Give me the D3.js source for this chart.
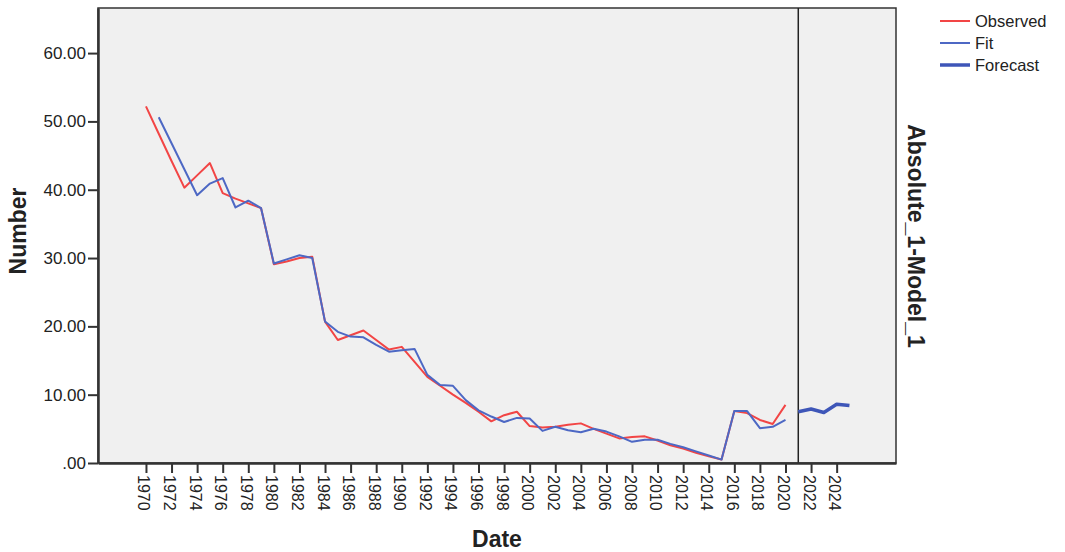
<!DOCTYPE html>
<html>
<head>
<meta charset="utf-8">
<script src="https://cdn.jsdelivr.net/npm/d3@7"></script>
<style>
  body { margin: 0; background: #fff; }
  text { font-family: "Liberation Sans", Arial, sans-serif; fill: #222; }
</style>
</head>
<body>
<div id="chart"></div>
<script>
// observed series 1970-2020
const obsYears = d3.range(1970, 2021);
const observed = [52.2, 48.2, 44.2, 40.3, 42.1, 43.9, 39.5, 38.7, 38.0, 37.3,
                  29.1, 29.5, 30.0, 30.2, 20.7, 18.0, 18.7, 19.4, 18.0, 16.6,
                  17.0, 14.8, 12.6, 11.3, 10.0, 8.8, 7.5, 6.1, 7.0, 7.5,
                  5.4, 5.2, 5.3, 5.6, 5.8, 5.0, 4.3, 3.6, 3.8, 3.9,
                  3.3, 2.6, 2.1, 1.5, 1.0, 0.5, 7.6, 7.3, 6.3, 5.7, 8.5];
// model fit 1971-2020
const fitYears = d3.range(1971, 2021);
const fit = [50.6, 46.8, 43.0, 39.2, 40.9, 41.7, 37.4, 38.4, 37.3,
             29.2, 29.8, 30.4, 30.0, 20.7, 19.2, 18.5, 18.4, 17.3, 16.3,
             16.5, 16.7, 12.9, 11.4, 11.3, 9.2, 7.7, 6.8, 6.0, 6.6,
             6.5, 4.7, 5.3, 4.8, 4.5, 5.0, 4.6, 3.9, 3.1, 3.4,
             3.4, 2.8, 2.3, 1.7, 1.1, 0.5, 7.6, 7.6, 5.1, 5.3, 6.3];
// forecast 2021-2025
const fcYears = d3.range(2021, 2026);
const forecast = [7.5, 7.9, 7.4, 8.6, 8.4];

const xTicks = d3.range(1970, 2025, 2);
const yTicks = [0, 10, 20, 30, 40, 50, 60];
const legendLabels = ["Observed", "Fit", "Forecast"];

const w = 1065, h = 552;
const pLeft = 98, pRight = 896, pTop = 8, pBottom = 463;
const colObs = "#f24545", colFit = "#4d68c4", colFc = "#3e56b8";

var svg = d3.select("#chart").append("svg").attr("width", w).attr("height", h);

var x = d3.scaleLinear().domain([1966.25, 2028.64]).range([pLeft, pRight]);
var y = d3.scaleLinear().domain([0, 66.6]).range([pBottom, pTop]);

// plot background + frame
svg.append("rect").attr("x", pLeft).attr("y", pTop)
   .attr("width", pRight - pLeft).attr("height", pBottom - pTop)
   .attr("fill", "#f0f0f0").attr("stroke", "#333").attr("stroke-width", 1.5);

// forecast start line
svg.append("line").attr("x1", x(2021)).attr("x2", x(2021))
   .attr("y1", pTop).attr("y2", pBottom).attr("stroke", "#222").attr("stroke-width", 1.5);

var line = d3.line().x(d => x(d[0])).y(d => y(d[1]));

function series(years, vals, col, sw) {
  svg.append("path").datum(d3.zip(years, vals))
     .attr("d", line).attr("fill", "none")
     .attr("stroke", col).attr("stroke-width", sw)
     .attr("stroke-linejoin", "round");
}
series(obsYears, observed, colObs, 2);
series(fitYears, fit, colFit, 2);
series(fcYears, forecast, colFc, 3.5);

// y axis
var yAxis = svg.append("g").attr("transform", "translate(" + pLeft + ",0)")
  .call(d3.axisLeft(y).tickValues(yTicks).tickSize(10).tickSizeOuter(0).tickPadding(2)
        .tickFormat(d => d === 0 ? ".00" : d3.format(".2f")(d)));
yAxis.select(".domain").attr("stroke", "#333").attr("stroke-width", 2.5);
yAxis.selectAll(".tick line").attr("stroke", "#333").attr("stroke-width", 2);
yAxis.selectAll("text").attr("font-size", 17).style("fill", "#222");

// x axis
var xAxis = svg.append("g").attr("transform", "translate(0," + pBottom + ")")
  .call(d3.axisBottom(x).tickValues(xTicks).tickSize(10).tickSizeOuter(0)
        .tickFormat(d3.format("d")));
xAxis.select(".domain").attr("stroke", "#333").attr("stroke-width", 2.5);
xAxis.selectAll(".tick line").attr("stroke", "#333").attr("stroke-width", 2);
xAxis.selectAll("text")
     .attr("transform", "rotate(90)")
     .attr("x", 12).attr("y", 8).attr("dy", 0)
     .attr("text-anchor", "start")
     .attr("font-size", 16).style("fill", "#222");

// axis titles
svg.append("text").attr("transform", "translate(26,231) rotate(-90)")
   .attr("text-anchor", "middle").attr("font-size", 23).attr("font-weight", "bold")
   .text("Number");
svg.append("text").attr("x", 497).attr("y", 547)
   .attr("text-anchor", "middle").attr("font-size", 23).attr("font-weight", "bold")
   .text("Date");
svg.append("text").attr("transform", "translate(908,236) rotate(90)")
   .attr("text-anchor", "middle").attr("font-size", 23).attr("font-weight", "bold")
   .text("Absolute_1-Model_1");

// legend
var leg = svg.append("g").selectAll("g").data(legendLabels).enter()
   .append("g").attr("transform", (d, i) => "translate(940," + (21 + i * 22) + ")");
leg.append("line").attr("x1", 0).attr("x2", 30)
   .attr("stroke", (d, i) => [colObs, colFit, colFc][i])
   .attr("stroke-width", (d, i) => i == 2 ? 3.5 : 2);
leg.append("text").attr("x", 35).attr("dy", "0.35em")
   .attr("font-size", 16.5).text(d => d);
</script>
</body>
</html>
